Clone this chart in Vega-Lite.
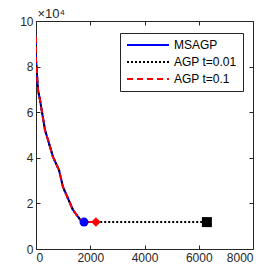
{
  "$schema": "https://vega.github.io/schema/vega-lite/v6.json",
  "width": 217,
  "height": 228,
  "autosize": {"type": "none"},
  "padding": {"left": 36, "top": 21, "right": 27, "bottom": 31},
  "background": "white",
  "config": {
    "font": "Liberation Sans",
    "view": {"stroke": "#262626", "strokeWidth": 1},
    "axis": {
      "grid": false,
      "domain": false,
      "tickColor": "#262626",
      "tickSize": -4,
      "labelColor": "#262626",
      "labelFont": "Liberation Sans",
      "labelFontSize": 12,
      "labelPadding": 7,
      "titleFont": "Liberation Sans"
    }
  },
  "datasets": {
    "lines": [
      {"method": "MSAGP", "t": 0, "f": 93000},
      {"method": "MSAGP", "t": 0, "f": 83000},
      {"method": "MSAGP", "t": 74, "f": 69700},
      {"method": "MSAGP", "t": 147, "f": 65400},
      {"method": "MSAGP", "t": 332, "f": 52200},
      {"method": "MSAGP", "t": 627, "f": 40400},
      {"method": "MSAGP", "t": 848, "f": 34600},
      {"method": "MSAGP", "t": 995, "f": 27200},
      {"method": "MSAGP", "t": 1364, "f": 17100},
      {"method": "MSAGP", "t": 1696, "f": 11800},
      {"method": "MSAGP", "t": 1770, "f": 11800},
      {"method": "AGP t=0.01", "t": 0, "f": 93000},
      {"method": "AGP t=0.01", "t": 0, "f": 83000},
      {"method": "AGP t=0.01", "t": 74, "f": 69700},
      {"method": "AGP t=0.01", "t": 147, "f": 65400},
      {"method": "AGP t=0.01", "t": 332, "f": 52200},
      {"method": "AGP t=0.01", "t": 627, "f": 40400},
      {"method": "AGP t=0.01", "t": 848, "f": 34600},
      {"method": "AGP t=0.01", "t": 995, "f": 27200},
      {"method": "AGP t=0.01", "t": 1364, "f": 17100},
      {"method": "AGP t=0.01", "t": 1696, "f": 11800},
      {"method": "AGP t=0.01", "t": 6300, "f": 11800},
      {"method": "AGP t=0.1", "t": 0, "f": 93000},
      {"method": "AGP t=0.1", "t": 0, "f": 83000},
      {"method": "AGP t=0.1", "t": 74, "f": 69700},
      {"method": "AGP t=0.1", "t": 147, "f": 65400},
      {"method": "AGP t=0.1", "t": 332, "f": 52200},
      {"method": "AGP t=0.1", "t": 627, "f": 40400},
      {"method": "AGP t=0.1", "t": 848, "f": 34600},
      {"method": "AGP t=0.1", "t": 995, "f": 27200},
      {"method": "AGP t=0.1", "t": 1364, "f": 17100},
      {"method": "AGP t=0.1", "t": 1696, "f": 11800},
      {"method": "AGP t=0.1", "t": 2210, "f": 11800}
    ],
    "ends": [
      {"method": "MSAGP", "t": 1770, "f": 11800, "shape": "circle"},
      {"method": "AGP t=0.1", "t": 2210, "f": 11800, "shape": "diamond"},
      {"method": "AGP t=0.01", "t": 6300, "f": 11800, "shape": "square"}
    ]
  },
  "layer": [
    {
      "data": {"name": "lines"},
      "mark": {"type": "line", "strokeWidth": 2, "clip": true},
      "encoding": {
        "x": {
          "field": "t", "type": "quantitative",
          "scale": {"domain": [0, 8000], "nice": false},
          "axis": {"orient": "bottom", "values": [0, 2000, 4000, 6000, 8000], "format": "d", "title": null}
        },
        "y": {
          "field": "f", "type": "quantitative",
          "scale": {"domain": [0, 100000], "nice": false},
          "axis": {
            "orient": "left",
            "values": [0, 20000, 40000, 60000, 80000, 100000],
            "labelExpr": "datum.value / 10000",
            "title": "×10⁴",
            "titleAngle": 0,
            "titleAlign": "left",
            "titleBaseline": "alphabetic",
            "titleX": 1,
            "titleY": -4,
            "titleFontSize": 13,
            "titleFontWeight": "normal",
            "titleColor": "#262626"
          }
        },
        "color": {
          "field": "method", "type": "nominal",
          "scale": {"domain": ["MSAGP", "AGP t=0.01", "AGP t=0.1"], "range": ["#0000FF", "#000000", "#FF0000"]},
          "legend": {
            "title": null,
            "orient": "none",
            "legendX": 84,
            "legendY": 12,
            "symbolType": "M-1,0H7.4",
            "symbolSize": 100,
            "symbolStrokeWidth": 2,
            "labelFont": "Liberation Sans",
            "labelFontSize": 12,
            "labelColor": "#000000",
            "strokeColor": "#262626",
            "fillColor": "white",
            "padding": 6,
            "rowPadding": 5,
            "labelOffset": 36
          }
        },
        "strokeDash": {
          "field": "method", "type": "nominal",
          "scale": {"domain": ["MSAGP", "AGP t=0.01", "AGP t=0.1"], "range": [[1, 0], [2, 2], [6, 4]]},
          "legend": {
            "title": null,
            "orient": "none",
            "legendX": 84,
            "legendY": 12,
            "symbolType": "M-1,0H7.4",
            "symbolSize": 100,
            "symbolStrokeWidth": 2,
            "labelFont": "Liberation Sans",
            "labelFontSize": 12,
            "labelColor": "#000000",
            "strokeColor": "#262626",
            "fillColor": "white",
            "padding": 6,
            "rowPadding": 5,
            "labelOffset": 36
          }
        },
        "order": {"field": "method", "sort": "ascending"}
      }
    },
    {
      "data": {"name": "ends"},
      "mark": {"type": "point", "filled": true, "opacity": 1},
      "encoding": {
        "x": {
          "field": "t", "type": "quantitative",
          "axis": {"orient": "top", "values": [0, 2000, 4000, 6000, 8000], "labels": false, "title": null}
        },
        "y": {
          "field": "f", "type": "quantitative",
          "axis": {"orient": "right", "values": [0, 20000, 40000, 60000, 80000, 100000], "labels": false, "title": null}
        },
        "color": {"field": "method", "type": "nominal", "legend": null},
        "shape": {
          "field": "shape", "type": "nominal",
          "scale": {"domain": ["circle", "diamond", "square"], "range": ["circle", "diamond", "square"]},
          "legend": null
        },
        "size": {
          "field": "shape", "type": "nominal",
          "scale": {"domain": ["circle", "diamond", "square"], "range": [81, 100, 49]},
          "legend": null
        }
      }
    }
  ],
  "resolve": {"axis": {"x": "independent", "y": "independent"}}
}
